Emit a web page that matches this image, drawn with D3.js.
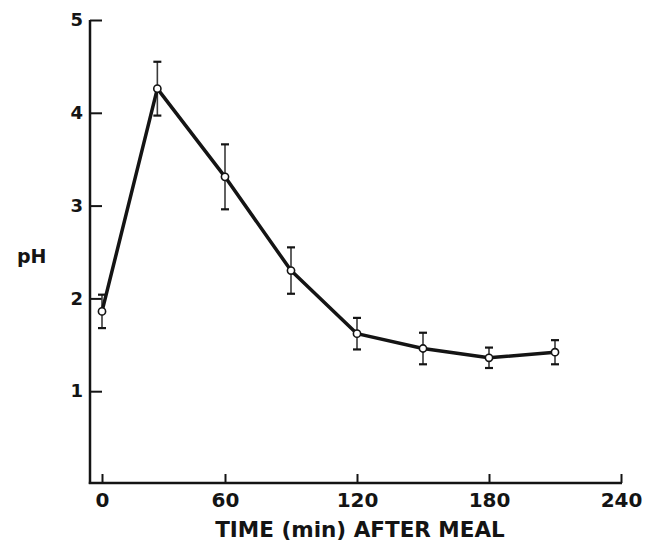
<!DOCTYPE html>
<html>
<head>
<meta charset="utf-8">
<script src="https://cdn.jsdelivr.net/npm/d3@7"></script>
<style>
  html, body { margin: 0; padding: 0; background: #fff; }
  svg { display: block; }
  text { font-family: "DejaVu Sans", sans-serif; font-weight: bold; fill: #141414; }
</style>
</head>
<body>
<svg id="chart" width="647" height="544"></svg>
<script>
// Data
const times = [0, 27, 60, 90, 120, 150, 180, 210];      // min after meal
const pHValues = [1.86, 4.26, 3.31, 2.30, 1.62, 1.46, 1.36, 1.42];
const pHErrors = [0.18, 0.29, 0.35, 0.25, 0.17, 0.17, 0.11, 0.13];
const xTickValues = [0, 60, 120, 180, 240];
const yTickValues = [1, 2, 3, 4, 5];
const xTitle = "TIME (min) AFTER MEAL";
const yTitle = "pH";

const svg = d3.select("#chart");
const ink = "#141414";

const x = d3.scaleLinear().domain([0, 60, 240]).range([102, 225, 621]);
const y = d3.scaleLinear().domain([0, 5]).range([484, 20]);
const axisX0 = 90;

// Axis lines
svg.append("line")
  .attr("x1", axisX0).attr("x2", axisX0)
  .attr("y1", y(5)).attr("y2", y(0))
  .attr("stroke", ink).attr("stroke-width", 2.5);
svg.append("line")
  .attr("x1", axisX0 - 1.2).attr("x2", x(240) + 1)
  .attr("y1", y(0) - 1).attr("y2", y(0) - 1)
  .attr("stroke", ink).attr("stroke-width", 2.5);

// Y axis ticks (inward) and labels
const gy = svg.append("g").attr("transform", `translate(${axisX0},0)`)
  .call(d3.axisLeft(y).tickValues(yTickValues).tickFormat(d3.format("d"))
    .tickSizeInner(-12).tickSizeOuter(0).tickPadding(7));
gy.select(".domain").remove();
gy.selectAll(".tick line").attr("stroke", ink).attr("stroke-width", 2);
gy.selectAll(".tick text").style("font-size", "18px").attr("fill", ink);

// X axis ticks (inward) and labels
const gx = svg.append("g").attr("transform", `translate(0,${y(0) - 1})`)
  .call(d3.axisBottom(x).tickValues(xTickValues).tickFormat(d3.format("d"))
    .tickSizeInner(-9).tickSizeOuter(0).tickPadding(10));
gx.select(".domain").remove();
gx.selectAll(".tick line").attr("stroke", ink).attr("stroke-width", 2);
gx.selectAll(".tick text").style("font-size", "20px").attr("fill", ink);

// Titles
svg.append("text")
  .attr("x", (212 + 508) / 2).attr("y", 537)
  .attr("text-anchor", "middle")
  .style("font-size", "21.5px")
  .text(xTitle);
svg.append("text")
  .attr("x", 17).attr("y", 263)
  .style("font-size", "19px")
  .text(yTitle);

const data = times.map((t, i) => ({ t, v: pHValues[i], e: pHErrors[i] }));

// Error bars
const eb = svg.append("g");
data.forEach(d => {
  eb.append("line")
    .attr("x1", x(d.t)).attr("x2", x(d.t))
    .attr("y1", y(d.v + d.e)).attr("y2", y(d.v - d.e))
    .attr("stroke", "#3a3a3a").attr("stroke-width", 1.6);
  [d.v + d.e, d.v - d.e].forEach(v => {
    eb.append("line")
      .attr("x1", x(d.t) - 4).attr("x2", x(d.t) + 4)
      .attr("y1", y(v)).attr("y2", y(v))
      .attr("stroke", ink).attr("stroke-width", 2.2);
  });
});

// Line
svg.append("path")
  .datum(data)
  .attr("d", d3.line().x(d => x(d.t)).y(d => y(d.v)))
  .attr("fill", "none")
  .attr("stroke", ink)
  .attr("stroke-width", 3.5)
  .attr("stroke-linejoin", "round");

// Markers
svg.append("g").selectAll("circle")
  .data(data)
  .join("circle")
  .attr("cx", d => x(d.t))
  .attr("cy", d => y(d.v))
  .attr("r", 3.6)
  .attr("fill", "#fff")
  .attr("stroke", ink)
  .attr("stroke-width", 1.6);
</script>
</body>
</html>
